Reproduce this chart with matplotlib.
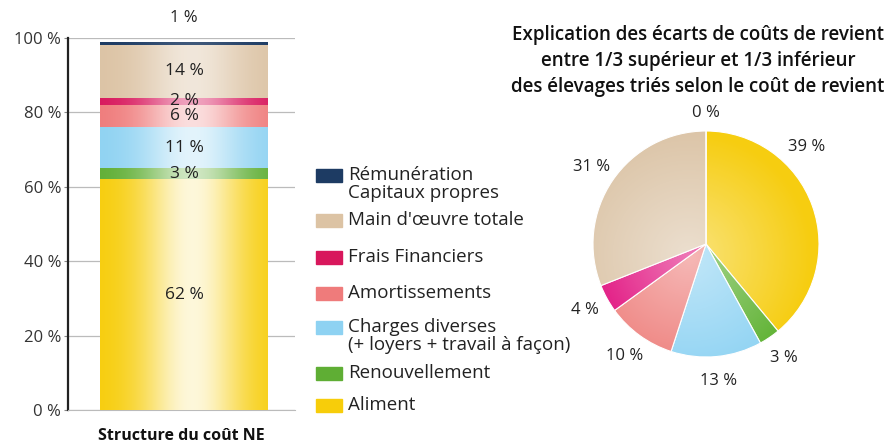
import numpy as np
import matplotlib.pyplot as plt
from matplotlib.patches import Rectangle
from matplotlib.colors import to_rgb

plt.rcParams['font.family'] = ['Open Sans', 'DejaVu Sans']

W, H = 894, 445

# postes de coût, du bas de la barre vers le haut
postes = ['Aliment', 'Renouvellement',
          'Charges diverses\n(+ loyers + travail à façon)',
          'Amortissements', 'Frais Financiers', "Main d'œuvre totale",
          'Rémunération\nCapitaux propres']
# structure du coût NE (%)
structure = [62, 3, 11, 6, 2, 14, 1]
# écarts 1/3 sup / 1/3 inf (%)
ecarts = [39, 3, 13, 10, 4, 31, 0]

couleurs = ['#f7cd0a', '#5fae34', '#8ed2f2', '#ef7b7b', '#d8175c', '#dcc3a4', '#1d3b63']
couleurs_pie = ['#f6cd10', '#5fb233', '#8fd3f3', '#ee7f7c', '#e0087a', '#dcc5a8', '#1d3b63']
force_degrade = [0.85, 0.7, 0.75, 0.75, 0.6, 0.6, 0.15]

texte = '#222222'


def degrade(ax, patch, couleur, force):
    # dégradé horizontal : bords saturés, centre clair
    x0, y0 = patch.get_x(), patch.get_y()
    w, h = patch.get_width(), patch.get_height()
    u = np.linspace(0, 1, 200)
    t = force * np.exp(-((u - 0.55) / 0.3) ** 2)
    c = np.array(to_rgb(couleur))
    img = c[None, :] * (1 - t[:, None]) + t[:, None]
    im = ax.imshow(img[None, :, :], extent=(x0, x0 + w, y0, y0 + h),
                   aspect='auto', zorder=3, interpolation='bilinear')
    im.set_clip_path(patch)


fig = plt.figure(figsize=(W / 100, H / 100), dpi=100)

# ---- barre empilée
ax = fig.add_axes([68 / W, 1 - 410 / H, 227 / W, 372 / H])
bas = 0
for v, c, f in zip(structure, couleurs, force_degrade):
    rec = ax.bar(0, v, bottom=bas, width=0.74, color=c, zorder=2)[0]
    degrade(ax, rec, c, f)
    if v == 1:
        ax.text(0, 105.5, f'{v} %', ha='center', va='center', fontsize=12, color=texte)
    else:
        ax.text(0, bas + v / 2, f'{v} %', ha='center', va='center', fontsize=12.5,
                color=texte, zorder=5)
    bas += v

ax.set_xlim(-0.511, 0.489)
ax.set_ylim(0, 100)
ax.set_yticks(range(0, 101, 20))
ax.set_yticklabels([f'{v} %' for v in range(0, 101, 20)], fontsize=12, color='#333333')
ax.set_xticks([])
ax.yaxis.grid(True, color='#bbbbbb', linewidth=0.9, zorder=0)
ax.set_axisbelow(True)
ax.tick_params(axis='y', length=3, color='#888888', pad=2)
ax.spines['top'].set_visible(False)
ax.spines['right'].set_visible(False)
ax.spines['left'].set_color('#222222')
ax.spines['left'].set_linewidth(1.6)
ax.spines['bottom'].set_color('#bbbbbb')
ax.set_xlabel('Structure du coût NE', fontsize=11.5, fontweight='bold', color='#111111',
              labelpad=13)

# ---- légende (dessinée à la main, du haut vers le bas)
y_legende = [175, 220, 257, 293, 327, 373, 405]
for lab, c, y in zip(postes[::-1], couleurs[::-1], y_legende):
    fig.patches.append(Rectangle((316 / W, 1 - (y + 6.5) / H), 26 / W, 13 / H,
                                 transform=fig.transFigure, color=c, figure=fig))
    for k, ligne in enumerate(lab.split('\n')):
        fig.text(348 / W, 1 - (y + k * 18) / H, ligne, ha='left', va='center',
                 fontsize=13.5, color=texte)

# ---- camembert
cx, cy, r = 706, 244, 113
r_ax = r * 1.3
axp = fig.add_axes([(cx - r_ax) / W, 1 - (cy + r_ax) / H, 2 * r_ax / W, 2 * r_ax / H])
parts, etiquettes, pcts = axp.pie(ecarts, colors=couleurs_pie, startangle=90, counterclock=False,
                                  autopct=lambda p: f'{p:.0f} %', pctdistance=1.22,
                                  wedgeprops=dict(edgecolor='white', linewidth=0.8),
                                  textprops=dict(fontsize=12, color=texte))
pcts[0].set_position((0.89, 0.86))
pcts[-1].set_position((0, 1.16))

# léger éclaircissement radial du camembert
yy, xx = np.mgrid[-1:1:300j, -1:1:300j]
d = np.sqrt((xx + 0.15) ** 2 + (yy - 0.1) ** 2)
alpha = np.clip(0.45 * (1 - d / 1.1), 0, None)
eclair = np.ones((300, 300, 4))
eclair[..., 3] = alpha
im = axp.imshow(eclair, extent=(-1, 1, -1, 1), zorder=3, interpolation='bilinear')
im.set_clip_path(plt.Circle((0, 0), 1, transform=axp.transData))
axp.set_xlim(-1.3, 1.3)
axp.set_ylim(-1.3, 1.3)
axp.set_aspect('equal')
axp.axis('off')

# ---- titre du camembert
titre = ['Explication des écarts de coûts de revient',
         'entre 1/3 supérieur et 1/3 inférieur',
         'des élevages triés selon le coût de revient']
for i, ligne in enumerate(titre):
    fig.text(698 / W, 1 - (35 + i * 26) / H, ligne, ha='center', va='center',
             fontsize=13.5, fontweight='semibold', color='#111111')

fig.savefig('out.png', dpi=100)
